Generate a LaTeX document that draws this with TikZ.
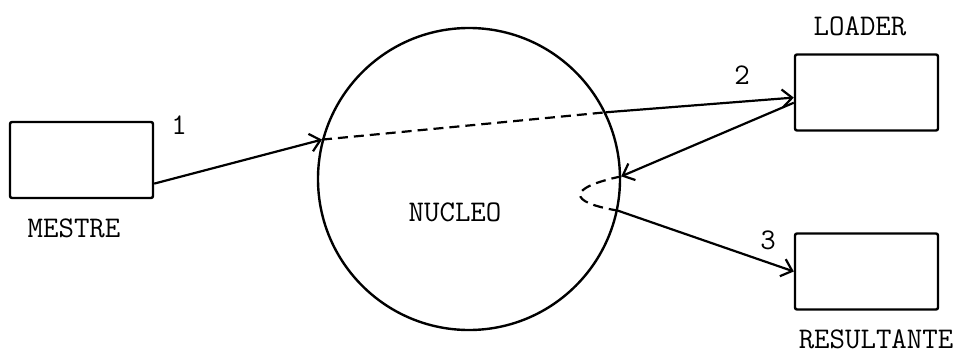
\documentclass[tikz,border=0pt]{standalone}
\usetikzlibrary{arrows.meta,positioning}

\tikzset{
  box/.style={draw, line width=1.2pt, rounded corners=1pt, minimum width=71.5pt, minimum height=38pt},
  lbl/.style={font=\ttfamily\fontsize{15}{18}\selectfont, inner sep=0pt},
  flow/.style={line width=1.1pt, -{Straight Barb[length=5pt,width=9pt]}},
  hidden/.style={line width=1.1pt, dash pattern=on 5pt off 3pt},
}

\begin{document}
\begin{tikzpicture}[x=0.5pt, y=-0.5pt]
  \useasboundingbox (0,0) rectangle (959,354);

  % processes
  \node[box] (mestre) at (81.5,160) {};
  \node[box] (loader) at (866.5,92.5) {};
  \node[box] (resultante) at (866.5,271.5) {};
  \node[circle, draw, line width=1.2pt, minimum size=151pt, inner sep=0pt] (nucleo) at (469,179) {};

  \node[lbl] (mestrelbl) at (74,228) {MESTRE};
  \node[lbl] (loaderlbl) at (860,26) {LOADER};
  \node[lbl] (resultantelbl) at (876,339) {RESULTANTE};
  \node[lbl] (nucleolbl) at (455,212) {NUCLEO};

  % points on the circle
  \coordinate (in1) at (nucleo.165);
  \coordinate (out2) at (nucleo.26);
  \coordinate (back) at (nucleo.1.5);
  \coordinate (out3) at (nucleo.-12);

  % messages
  \draw[flow] (mestre.-18) -- (in1);
  \draw[hidden] (in1) -- (out2);
  \draw[flow] (out2) -- (loader.184);
  \draw[flow] (loader.188) -- (back);
  \draw[hidden] (back) .. controls (567,188) and (567,202) .. (out3);
  \draw[flow] (out3) -- (resultante.west);

  \node[lbl] (n1) at (179,125) {1};
  \node[lbl] (n2) at (742,75) {2};
  \node[lbl] (n3) at (768,240) {3};
\end{tikzpicture}
\end{document}
